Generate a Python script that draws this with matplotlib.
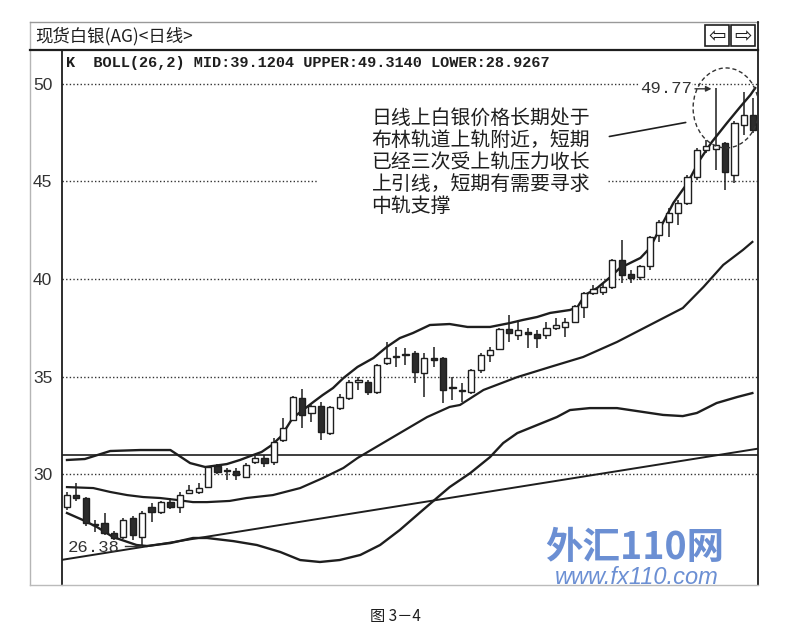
import numpy as np
import matplotlib.pyplot as plt
from matplotlib.patches import Rectangle, Ellipse
from matplotlib.lines import Line2D

plt.rcParams['font.family'] = ['Noto Sans CJK SC', 'DejaVu Sans']

# K线数据 (开, 高, 低, 收) —— 近似值
opens = [28.31, 28.92, 28.77, 27.46, 27.49, 27.00, 26.77, 27.74, 26.77, 28.31,
         28.05, 28.56, 28.31, 29.03, 29.08, 29.33, 30.41, 30.20, 30.15, 29.85,
         30.60, 30.80, 30.62, 31.74, 32.77, 33.90, 33.13, 33.49, 32.10, 33.38,
         33.90, 34.72, 34.72, 34.20, 35.69, 36.00, 36.10, 36.20, 35.18, 35.95,
         35.95, 34.45, 34.30, 34.20, 35.33, 36.10, 36.40, 37.44, 37.13, 37.25,
         37.18, 37.13, 37.49, 37.54, 37.80, 38.56, 39.28, 39.33, 39.59, 40.97,
         40.26, 40.10, 40.67, 42.26, 42.92, 43.38, 43.90, 45.23, 46.62, 46.67,
         46.97, 45.33, 47.90, 48.41]
highs = [29.08, 29.54, 28.82, 27.64, 28.00, 27.10, 27.75, 27.85, 28.10, 28.50,
         28.62, 28.77, 29.08, 29.44, 29.54, 30.41, 30.50, 30.30, 30.30, 30.55,
         30.90, 30.97, 31.85, 32.87, 34.00, 34.36, 33.55, 33.70, 33.50, 34.10,
         34.80, 34.97, 34.80, 35.64, 36.77, 36.51, 36.46, 36.30, 36.20, 36.51,
         36.00, 34.97, 34.67, 35.40, 36.20, 36.50, 37.50, 38.15, 37.90, 37.50,
         37.40, 37.80, 38.00, 38.00, 38.65, 39.35, 39.70, 39.80, 41.00, 42.00,
         40.46, 40.70, 42.20, 43.00, 43.64, 44.05, 45.33, 46.70, 47.10, 49.77,
         47.00, 48.10, 49.59, 49.28]
lows = [28.15, 28.62, 27.33, 27.03, 26.87, 26.62, 26.65, 26.60, 26.38, 27.54,
        27.95, 28.20, 28.00, 28.97, 29.00, 29.28, 30.00, 29.70, 29.70, 29.80,
        30.50, 30.36, 30.46, 31.64, 32.70, 32.36, 32.67, 31.74, 32.00, 33.30,
        33.80, 34.30, 34.05, 34.10, 35.60, 35.49, 35.59, 34.67, 33.95, 35.49,
        33.64, 33.80, 33.70, 34.10, 35.20, 35.74, 36.35, 36.77, 36.87, 36.46,
        36.46, 36.90, 37.38, 37.00, 37.75, 38.00, 39.20, 39.18, 39.50, 39.80,
        39.80, 39.95, 40.46, 41.90, 42.15, 42.77, 43.80, 45.10, 46.46, 45.59,
        44.56, 44.92, 47.38, 47.50]
closes = [28.92, 28.77, 27.49, 27.38, 26.97, 26.72, 27.64, 26.87, 28.00, 28.05,
          28.56, 28.31, 28.92, 29.18, 29.28, 30.36, 30.10, 30.15, 29.95, 30.46,
          30.80, 30.56, 31.64, 32.36, 33.95, 33.03, 33.49, 32.15, 33.44, 33.95,
          34.72, 34.80, 34.20, 35.59, 35.95, 36.05, 36.15, 35.23, 35.95, 35.85,
          34.30, 34.40, 34.25, 35.33, 36.10, 36.36, 37.45, 37.23, 37.38, 37.20,
          36.97, 37.49, 37.64, 37.80, 38.60, 39.28, 39.49, 39.59, 40.97, 40.21,
          40.05, 40.67, 42.15, 42.92, 43.38, 43.90, 45.23, 46.62, 46.82, 46.87,
          45.49, 48.00, 48.41, 47.64]

# 布林线 (读点: K线序号, 价格)
upper_x = [0, 1.9, 4.6, 7.8, 11.0, 13.1, 14.7, 15.5, 17.0, 18.4, 19.5, 20.7, 21.8,
           22.7, 23.4, 24.0, 25.1, 26.2, 27.2, 28.3, 29.4, 30.9, 32.6, 34.0, 35.4,
           36.8, 38.6, 40.7, 42.6, 45.0, 47.1, 48.5, 50.0, 51.4, 53.5, 54.3, 55.1,
           56.4, 57.8, 58.8, 59.9, 61.0, 62.0, 63.1, 64.5, 66.0, 67.3, 68.6, 70.2,
           71.6, 72.7, 73.2]
upper_y = [30.72, 30.77, 31.18, 31.23, 31.23, 30.56, 30.36, 30.41, 30.51, 30.72,
           30.92, 31.13, 31.49, 31.90, 32.41, 32.87, 33.28, 33.69, 34.05, 34.41,
           34.92, 35.49, 35.95, 36.51, 36.97, 37.23, 37.64, 37.69, 37.54, 37.54,
           37.74, 37.90, 38.05, 38.26, 38.41, 38.56, 39.18, 39.54, 40.10, 40.56,
           40.82, 41.08, 41.59, 42.62, 43.90, 44.92, 46.10, 47.03, 48.00, 48.82,
           49.44, 49.79]
mid_x = [0, 2.8, 4.6, 6.4, 8.1, 9.9, 11.7, 13.4, 14.9, 17.3, 19.1, 21.9, 24.8,
         27.2, 29.4, 30.9, 34.7, 38.3, 40.7, 41.8, 44.3, 47.9, 51.4, 54.9, 58.5,
         62.0, 65.5, 67.7, 69.8, 71.9, 72.9]
mid_y = [29.33, 29.28, 29.08, 28.92, 28.82, 28.77, 28.67, 28.56, 28.56, 28.62,
         28.77, 28.92, 29.28, 29.79, 30.31, 30.82, 31.90, 32.92, 33.44, 33.54,
         34.31, 34.97, 35.49, 36.00, 36.77, 37.64, 38.51, 39.59, 40.72, 41.49,
         41.90]
lower_x = [0, 1.7, 3.2, 4.9, 7.4, 8.5, 11.0, 13.4, 14.9, 17.7, 20.2, 22.7, 24.8,
           26.9, 29.0, 31.2, 33.3, 35.4, 37.6, 39.7, 40.7, 42.9, 45.0, 46.4, 47.9,
           50.0, 52.1, 53.5, 55.6, 58.5, 61.3, 63.4, 65.5, 67.0, 69.1, 71.3, 72.9]
lower_y = [28.00, 27.64, 27.28, 26.77, 26.36, 26.31, 26.46, 26.72, 26.72, 26.56,
           26.36, 26.00, 25.59, 25.49, 25.59, 25.85, 26.36, 27.13, 28.05, 28.92,
           29.33, 30.05, 30.87, 31.59, 32.10, 32.51, 32.92, 33.28, 33.38, 33.38,
           33.18, 33.03, 32.97, 33.13, 33.64, 33.95, 34.15]

# 画线: 趋势线两端和水平线
trend_x = [-0.53, 73.5]
trend_y = [25.6, 31.3]
hline_price = 30.97

ytick_vals = [30, 35, 40, 45, 50]
high_mark = (69, 49.77)
low_mark = (8, 26.38)

ink = '#1e1e1e'
W, H = 788, 638


def fx(px):
    return px / W


def fy(py):
    return 1 - py / H


fig = plt.figure(figsize=(W / 100, H / 100), dpi=100)
fig.patch.set_facecolor('white')
ax = fig.add_axes([fx(62), fy(585), (758 - 62) / W, (585 - 50) / H])
ax.set_xlim(-0.53, 73.5)
ax.set_ylim(24.31, 51.74)

# 虚线网格, 45 这条中间被文字断开
dot = dict(color='#333333', lw=1.0, ls=(0, (1, 1.6)), zorder=1)
for v in ytick_vals:
    if v == 45:
        ax.axhline(v, xmin=0, xmax=0.368, **dot)
        ax.axhline(v, xmin=0.784, xmax=1, **dot)
    else:
        ax.axhline(v, **dot)

ax.axhline(hline_price, color=ink, lw=1.2, zorder=2)
ax.plot(trend_x, trend_y, color=ink, lw=1.4, zorder=2)

ax.plot(upper_x, upper_y, color=ink, lw=1.7, zorder=2)
ax.plot(mid_x, mid_y, color=ink, lw=1.6, zorder=2)
ax.plot(lower_x, lower_y, color=ink, lw=1.7, zorder=2)

# K线
for i, (o, h, l, c) in enumerate(zip(opens, highs, lows, closes)):
    ax.vlines(i, l, h, color=ink, lw=1.1, zorder=3)
    lo, hi = min(o, c), max(o, c)
    face = 'white' if c >= o else '#2b2b2b'
    ax.add_patch(Rectangle((i - 0.33, lo), 0.66, max(hi - lo, 0.07),
                           facecolor=face, edgecolor=ink, lw=1.0, zorder=4))

# 标注
ax.text(0.006, 0.9757, 'K  BOLL(26,2) MID:39.1204 UPPER:49.3140 LOWER:28.9267',
        transform=ax.transAxes, family='Liberation Mono', fontsize=11.0,
        color=ink, va='center', ha='left', fontweight='bold')

ax.text(63.7, 49.75, '49.77', family='Liberation Mono', fontsize=12.5, color='#333',
        va='center', ha='center', zorder=5,
        bbox=dict(facecolor='white', edgecolor='none', pad=0.5))
ax.annotate('', xy=(high_mark[0] - 0.15, 49.75), xytext=(66.5, 49.75),
            arrowprops=dict(arrowstyle='-|>', color='#333', lw=1.0,
                            mutation_scale=8), zorder=5)

ax.text(0.1, 26.22, '26.38', family='Liberation Mono', fontsize=12.5, color='#333',
        va='center', ha='left', zorder=5)
ax.plot([6.2, low_mark[0] - 0.1], [26.3, 26.3], color='#333', lw=1.0, zorder=5)

ax.add_patch(Ellipse((70.1, 48.77), 7.0, 4.1, fill=False, ls=(0, (3, 2)),
                     lw=1.0, edgecolor='#333', zorder=5))
ax.annotate('', xy=(66.1, 48.05), xytext=(57.4, 47.28),
            arrowprops=dict(arrowstyle='-', color=ink, lw=1.2))

note = ('日线上白银价格长期处于\n布林轨道上轨附近，短期\n已经三次受上轨压力收长\n'
        '上引线，短期有需要寻求\n中轨支撑')
ax.text(32.4, 48.8, note, fontsize=14.3, color=ink, va='top', ha='left',
        linespacing=1.08, zorder=5)

# 轴
ax.set_xticks([])
ax.set_yticks(ytick_vals)
ax.set_yticklabels([str(v) for v in ytick_vals], family='Liberation Sans',
                   fontsize=12.5, color='#333')
ax.tick_params(axis='y', length=0, pad=7)
for side in ['left', 'right']:
    ax.spines[side].set_color(ink)
    ax.spines[side].set_linewidth(1.3)
ax.spines['top'].set_visible(False)
ax.spines['bottom'].set_color('#bbbbbb')
ax.spines['bottom'].set_linewidth(1.0)

# 外框和标题栏
fig.add_artist(Line2D([fx(30), fx(30)], [fy(22), fy(585)], color='#b5b5b5', lw=1.0))
fig.add_artist(Line2D([fx(30), fx(62)], [fy(585), fy(585)], color='#bbbbbb', lw=1.0))
fig.add_artist(Line2D([fx(30), fx(758)], [fy(22), fy(22)], color='#999999', lw=1.0))
fig.add_artist(Line2D([fx(30), fx(758)], [fy(50), fy(50)], color=ink, lw=1.6))
fig.add_artist(Line2D([fx(758), fx(758)], [fy(22), fy(50)], color=ink, lw=1.3))
fig.text(fx(35), fy(36), '现货白银(AG)<日线>', fontsize=12.5, color=ink,
         va='center', ha='left')
for bx, arrow in [(705, '⇦'), (731, '⇨')]:
    fig.add_artist(Rectangle((fx(bx), fy(46)), 24 / W, 21 / H, fill=False,
                             edgecolor=ink, lw=1.2, transform=fig.transFigure))
    fig.text(fx(bx + 12), fy(36), arrow, family='DejaVu Sans', fontsize=15,
             color=ink, va='center', ha='center')

# 水印
fig.text(fx(635), fy(547), '外汇110网', fontsize=27, fontweight='bold',
         color='#5b83cf', va='center', ha='center', alpha=0.9)
fig.text(fx(637), fy(577), 'www.fx110.com', family='Liberation Sans', fontsize=17,
         style='italic', color='#5b83cf', va='center', ha='center', alpha=0.9)

fig.text(fx(395), fy(617), '图 3－4', fontsize=11, color=ink, va='center', ha='center')

fig.savefig('out.png', dpi=100)
